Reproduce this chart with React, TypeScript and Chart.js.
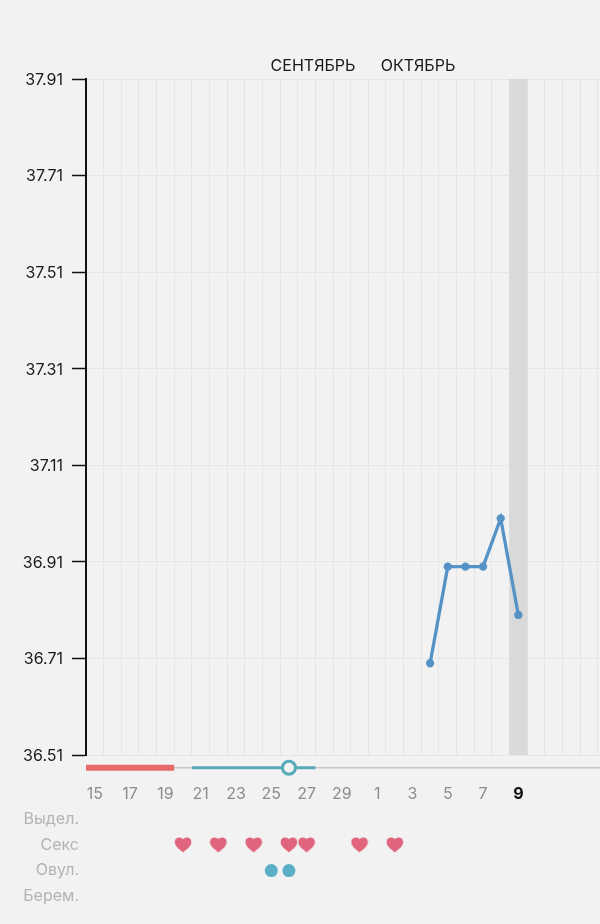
import React, { useEffect, useRef } from "react";
import { Chart, registerables } from "chart.js";

Chart.register(...registerables);

const days = ["15","16","17","18","19","20","21","22","23","24","25","26","27","28","29","30","1","2","3","4","5","6","7","8","9","10","11","12","13","14"];
const temperature = [null,null,null,null,null,null,null,null,null,null,null,null,null,null,null,null,null,null,null,36.70,36.90,36.90,36.90,37.00,36.80,null,null,null,null,null];
const todayIndex = 24;
const sexDays = [5, 7, 9, 11, 12, 15, 17];
const ovulationDays = [10, 11];
const ovulationPeak = 11;
const periodRange = [-0.5, 4.5];
const fertileRange = [5.5, 12.5];
const timelineRange = [-0.5, 29.5];
const rowLabels = ["Выдел.", "Секс", "Овул.", "Берем."];
const monthLabels = ["СЕНТЯБРЬ", "ОКТЯБРЬ"];

const FONT = "Inter, Roboto, sans-serif";
const BG = "#f2f2f2";
const W = 640;
const PLOT_RIGHT = 615.4;

function heartCanvas(): HTMLCanvasElement {
  const c = document.createElement("canvas");
  c.width = 18;
  c.height = 16;
  const g = c.getContext("2d")!;
  g.fillStyle = "#e1647d";
  g.beginPath();
  g.moveTo(9, 15.5);
  g.bezierCurveTo(6, 12.8, 0.7, 9.6, 0.7, 5);
  g.bezierCurveTo(0.7, 2.2, 2.8, 0.5, 5, 0.5);
  g.bezierCurveTo(6.8, 0.5, 8.2, 1.2, 9, 2.4);
  g.bezierCurveTo(9.8, 1.2, 11.2, 0.5, 13, 0.5);
  g.bezierCurveTo(15.2, 0.5, 17.3, 2.2, 17.3, 5);
  g.bezierCurveTo(17.3, 9.6, 12, 12.8, 9, 15.5);
  g.closePath();
  g.fill();
  return c;
}

const monthPlugin = {
  id: "months",
  afterDraw(chart: any) {
    const { ctx } = chart;
    ctx.save();
    ctx.font = `16px ${FONT}`;
    ctx.textBaseline = "middle";
    ctx.textAlign = "center";
    ctx.fillStyle = "#1a1a1a";
    ctx.fillText(monthLabels[0], 313, 66.5);
    ctx.fillText(monthLabels[1], 418, 66.5);
    ctx.restore();
  },
};

export default function App() {
  const ref = useRef<HTMLCanvasElement>(null);
  const ref2 = useRef<HTMLCanvasElement>(null);
  useEffect(() => {
    const chart = new Chart(ref.current!, {
      data: {
        labels: days,
        datasets: [
          {
            type: "bar",
            data: days.map((_, i) => (i === todayIndex ? [36.51, 37.91] : null)),
            backgroundColor: "#d9d9d9",
            barPercentage: 1,
            categoryPercentage: 1,
            order: 10,
          },
          {
            type: "line",
            data: temperature,
            borderColor: "#5592c6",
            backgroundColor: "#5592c6",
            borderWidth: 3.3,
            pointRadius: 2.5,
            pointHoverRadius: 2.5,
            order: 1,
          },
        ] as any,
      },
      options: {
        responsive: false,
        animation: false,
        devicePixelRatio: 1,
        events: [],
        layout: { padding: { top: 79, right: W - PLOT_RIGHT, left: 0, bottom: 0 } },
        plugins: { legend: { display: false }, tooltip: { enabled: false } },
        scales: {
          x: {
            type: "category",
            offset: true,
            afterFit: (s: any) => { s.height = 169; s.paddingRight = 0; s.paddingLeft = 0; },
            grid: { color: "#e6e6e6", lineWidth: 1, drawTicks: false, offset: true },
            border: { color: "#e6e6e6", width: 1 },
            ticks: {
              autoSkip: false,
              maxRotation: 0,
              minRotation: 0,
              padding: 30,
              callback: (_v: any, i: number) => (i % 2 === 0 && i <= todayIndex ? days[i] : ""),
              color: (c: any) => (c.index === todayIndex ? "#111111" : "#8c8c8c"),
              font: (c: any) => ({ family: FONT, size: 16, weight: c.index === todayIndex ? "bold" : "normal" }),
            },
          },
          y: {
            type: "linear",
            min: 36.51,
            max: 37.91,
            afterFit: (s: any) => { s.width = 86; },
            grid: { color: "#e6e6e6", lineWidth: 1, tickColor: "#111111", tickWidth: 1.5, tickLength: 14 },
            border: { color: "#111111", width: 2 },
            ticks: {
              stepSize: 0.2,
              padding: 9,
              labelOffset: 1,
              color: "#1a1a1a",
              font: { family: FONT, size: 16 },
              callback: (v: any) => Number(v).toFixed(2),
            },
          },
        },
      } as any,
      plugins: [monthPlugin],
    });

    const PHASE_ROW = -2;
    const phase = (r: number[]) => r.map((x) => ({ x, y: PHASE_ROW }));
    const rowsChart = new Chart(ref2.current!, {
      data: {
        datasets: [
          { type: "line", data: phase(timelineRange), borderColor: "#c6c6c6", borderWidth: 1.5, pointRadius: 0, order: 6, clip: false },
          { type: "line", data: phase(periodRange), borderColor: "#e56a6a", borderWidth: 6, pointRadius: 0, order: 5, clip: false },
          { type: "line", data: phase(fertileRange), borderColor: "#57abb8", borderWidth: 3, pointRadius: 0, order: 5, clip: false },
          {
            type: "scatter",
            data: [{ x: ovulationPeak, y: PHASE_ROW }],
            pointRadius: 6.5,
            borderWidth: 3,
            borderColor: "#57abb8",
            backgroundColor: BG,
            order: 2,
            clip: false,
          },
          { type: "scatter", data: sexDays.map((x) => ({ x, y: 1 })), pointStyle: heartCanvas(), order: 2 },
          {
            type: "scatter",
            data: ovulationDays.map((x) => ({ x, y: 2 })),
            pointRadius: 6.5,
            borderWidth: 0,
            backgroundColor: "#5aaec6",
            order: 2,
          },
        ] as any,
      },
      options: {
        responsive: false,
        animation: false,
        devicePixelRatio: 1,
        events: [],
        layout: { padding: { top: 0, right: W - PLOT_RIGHT, left: 0, bottom: 0 } },
        plugins: { legend: { display: false }, tooltip: { enabled: false } },
        scales: {
          x: { type: "linear", display: false, min: -0.5, max: 29.5 },
          y: {
            type: "linear",
            reverse: true,
            min: -2.51,
            max: 3.78,
            afterFit: (s: any) => { s.width = 86; },
            afterBuildTicks: (s: any) => { s.ticks = rowLabels.map((_, i) => ({ value: i })); },
            grid: { display: false, drawTicks: false, tickLength: 0 },
            border: { display: false },
            ticks: {
              padding: 7,
              color: "#b4b4b4",
              font: { family: FONT, size: 16 },
              callback: (v: any) => rowLabels[v] ?? "",
            },
          },
        },
      } as any,
    });
    return () => {
      chart.destroy();
      rowsChart.destroy();
    };
  }, []);
  return (
    <div style={{ position: "absolute", left: 0, top: 0, width: 600, height: 924, overflow: "hidden", background: BG }}>
      <canvas ref={ref} width={W} height={924} style={{ display: "block", position: "absolute", left: 0, top: 0 }} />
      <canvas ref={ref2} width={W} height={195} style={{ display: "block", position: "absolute", left: 0, top: 738 }} />
    </div>
  );
}
